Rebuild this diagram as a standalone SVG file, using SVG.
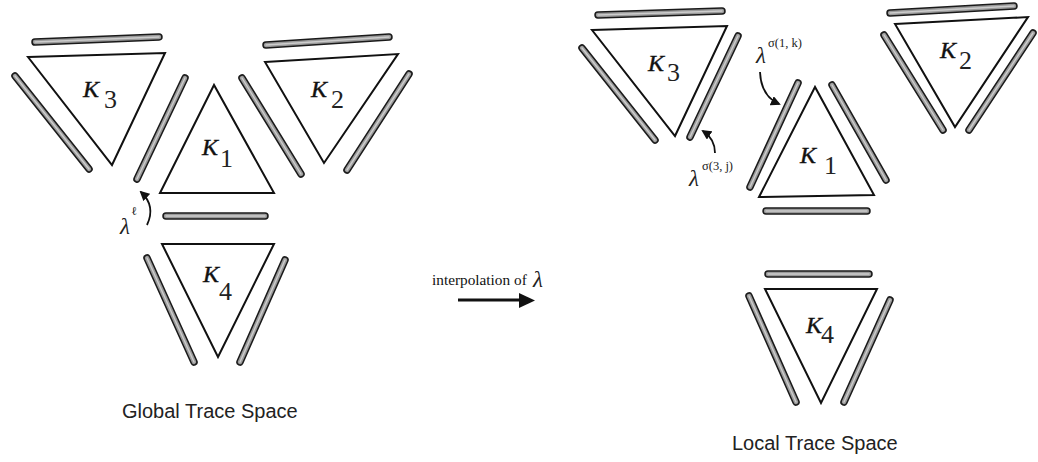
<svg xmlns="http://www.w3.org/2000/svg" width="1038" height="462" viewBox="0 0 1038 462">
<defs>
<style>
.tri{fill:#fff;stroke:#111;stroke-width:2;stroke-linejoin:miter}
.bo{stroke:#1a1a1a;stroke-width:7.5;stroke-linecap:round;fill:none}
.bi{stroke:#9a9a9a;stroke-width:4.4;stroke-linecap:round;fill:none}
.bh{stroke:#cdcdcd;stroke-width:1.4;stroke-linecap:round;fill:none}
.k{font-family:"Liberation Serif",serif;font-style:italic;font-size:24px;fill:#111;stroke:#111;stroke-width:0.4}
.sub{font-family:"Liberation Serif",serif;font-size:26px;fill:#222}
.lam{font-family:"Liberation Serif",serif;font-style:italic;font-size:23px;fill:#222}
.sup{font-family:"Liberation Serif",serif;font-size:12.5px;fill:#222}
.cap{font-family:"Liberation Sans",Arial,sans-serif;font-size:20px;fill:#222}
.cur{fill:none;stroke:#111;stroke-width:1.8}
</style>
<marker id="ah" markerUnits="userSpaceOnUse" markerWidth="10" markerHeight="10" viewBox="0 0 10 10" refX="8" refY="5" orient="auto">
<path d="M0,0 L10,5 L0,10 Z" fill="#111"/>
</marker>
</defs>
<rect width="1038" height="462" fill="#fff"/>

<!-- LEFT: Global trace space -->
<g id="g-K3">
<polygon class="tri" points="28,57 165,53 112,165"/>
<text class="k" x="83" y="97">K</text><text class="sub" x="104" y="108">3</text>
</g>
<g id="g-K1">
<polygon class="tri" points="214,85 160,193 274,193"/>
<text class="k" x="202" y="155">K</text><text class="sub" x="220" y="167">1</text>
</g>
<g id="g-K2">
<polygon class="tri" points="265,62 398,54 324,163"/>
<text class="k" x="311" y="97">K</text><text class="sub" x="331" y="108">2</text>
</g>
<g id="g-K4">
<polygon class="tri" points="162,244 274,244 218,357"/>
<text class="k" x="203" y="282">K</text><text class="sub" x="219" y="300">4</text>
</g>

<g id="g-traces">
<line class="bo" x1="35" y1="42" x2="159" y2="37"/><line class="bi" x1="35" y1="42" x2="159" y2="37"/><line class="bh" x1="35" y1="42" x2="159" y2="37"/>
<line class="bo" x1="15" y1="76" x2="89" y2="169"/><line class="bi" x1="15" y1="76" x2="89" y2="169"/><line class="bh" x1="15" y1="76" x2="89" y2="169"/>
<line class="bo" x1="185" y1="78" x2="137" y2="179"/><line class="bi" x1="185" y1="78" x2="137" y2="179"/><line class="bh" x1="185" y1="78" x2="137" y2="179"/>
<line class="bo" x1="242" y1="78" x2="301" y2="174"/><line class="bi" x1="242" y1="78" x2="301" y2="174"/><line class="bh" x1="242" y1="78" x2="301" y2="174"/>
<line class="bo" x1="166" y1="216" x2="265" y2="216"/><line class="bi" x1="166" y1="216" x2="265" y2="216"/><line class="bh" x1="166" y1="216" x2="265" y2="216"/>
<line class="bo" x1="266" y1="45" x2="389" y2="37"/><line class="bi" x1="266" y1="45" x2="389" y2="37"/><line class="bh" x1="266" y1="45" x2="389" y2="37"/>
<line class="bo" x1="409" y1="74" x2="347" y2="170"/><line class="bi" x1="409" y1="74" x2="347" y2="170"/><line class="bh" x1="409" y1="74" x2="347" y2="170"/>
<line class="bo" x1="147" y1="258" x2="194" y2="362"/><line class="bi" x1="147" y1="258" x2="194" y2="362"/><line class="bh" x1="147" y1="258" x2="194" y2="362"/>
<line class="bo" x1="285" y1="260" x2="240" y2="362"/><line class="bi" x1="285" y1="260" x2="240" y2="362"/><line class="bh" x1="285" y1="260" x2="240" y2="362"/>
</g>

<g id="g-lambda">
<text class="lam" x="120" y="234">λ</text>
<text x="132" y="215" font-family="Liberation Serif,serif" font-size="12" font-weight="bold" fill="#111">ℓ</text>
</g>
<g id="connectors">
<path class="cur" d="M147,225 Q156,206 141,192" marker-end="url(#ah)"/>
<path class="cur" d="M715,153 Q715,139 703,131" marker-end="url(#ah)"/>
<path class="cur" d="M760,72 Q761,96 779,104" marker-end="url(#ah)"/>
<line x1="458" y1="300" x2="521" y2="300" stroke="#111" stroke-width="3"/>
<polygon points="519,293 535,300.5 519,308" fill="#111"/>
</g>

<text class="cap" x="122" y="418">Global Trace Space</text>

<g id="mid-label">
<text x="432" y="285" font-family="Liberation Serif,serif" font-size="15.3" fill="#111">interpolation of</text>
<text class="lam" x="533" y="287">λ</text>
</g>

<!-- RIGHT: Local trace space -->
<g id="l-K3">
<polygon class="tri" points="592,30 727,26 675,136"/>
<line class="bo" x1="598" y1="15" x2="722" y2="11"/><line class="bi" x1="598" y1="15" x2="722" y2="11"/><line class="bh" x1="598" y1="15" x2="722" y2="11"/>
<line class="bo" x1="582" y1="48" x2="655" y2="140"/><line class="bi" x1="582" y1="48" x2="655" y2="140"/><line class="bh" x1="582" y1="48" x2="655" y2="140"/>
<line class="bo" x1="738" y1="36" x2="690" y2="137"/><line class="bi" x1="738" y1="36" x2="690" y2="137"/><line class="bh" x1="738" y1="36" x2="690" y2="137"/>
<text class="k" x="648" y="71">K</text><text class="sub" x="667" y="81">3</text>
</g>
<g id="l-K1">
<polygon class="tri" points="815,87 759,197 874,195"/>
<line class="bo" x1="798" y1="83" x2="750" y2="187"/><line class="bi" x1="798" y1="83" x2="750" y2="187"/><line class="bh" x1="798" y1="83" x2="750" y2="187"/>
<line class="bo" x1="832" y1="85" x2="886" y2="180"/><line class="bi" x1="832" y1="85" x2="886" y2="180"/><line class="bh" x1="832" y1="85" x2="886" y2="180"/>
<line class="bo" x1="766" y1="211" x2="867" y2="211"/><line class="bi" x1="766" y1="211" x2="867" y2="211"/><line class="bh" x1="766" y1="211" x2="867" y2="211"/>
<text class="k" x="800" y="163">K</text><text class="sub" x="824" y="174">1</text>
</g>
<g id="l-K2">
<polygon class="tri" points="895,24 1028,17 955,127"/>
<line class="bo" x1="890" y1="13" x2="1014" y2="6"/><line class="bi" x1="890" y1="13" x2="1014" y2="6"/><line class="bh" x1="890" y1="13" x2="1014" y2="6"/>
<line class="bo" x1="884" y1="35" x2="943" y2="130"/><line class="bi" x1="884" y1="35" x2="943" y2="130"/><line class="bh" x1="884" y1="35" x2="943" y2="130"/>
<line class="bo" x1="1033" y1="33" x2="969" y2="130"/><line class="bi" x1="1033" y1="33" x2="969" y2="130"/><line class="bh" x1="1033" y1="33" x2="969" y2="130"/>
<text class="k" x="940" y="58">K</text><text class="sub" x="959" y="69">2</text>
</g>
<g id="l-K4">
<polygon class="tri" points="765,289 877,289 821,403"/>
<line class="bo" x1="768" y1="274" x2="869" y2="274"/><line class="bi" x1="768" y1="274" x2="869" y2="274"/><line class="bh" x1="768" y1="274" x2="869" y2="274"/>
<line class="bo" x1="749" y1="296" x2="796" y2="402"/><line class="bi" x1="749" y1="296" x2="796" y2="402"/><line class="bh" x1="749" y1="296" x2="796" y2="402"/>
<line class="bo" x1="890" y1="300" x2="844" y2="402"/><line class="bi" x1="890" y1="300" x2="844" y2="402"/><line class="bh" x1="890" y1="300" x2="844" y2="402"/>
<text class="k" x="806" y="333">K</text><text class="sub" x="821" y="343">4</text>
</g>

<g id="l-lambda3j">
<text class="lam" x="689" y="186">λ</text>
<text class="sup" x="702" y="170">σ(3, j)</text>
</g>
<g id="l-lambda1k">
<text class="lam" x="756" y="63">λ</text>
<text class="sup" x="768" y="47">σ(1, k)</text>
</g>

<text class="cap" x="732" y="450" font-size="21">Local Trace Space</text>
</svg>
